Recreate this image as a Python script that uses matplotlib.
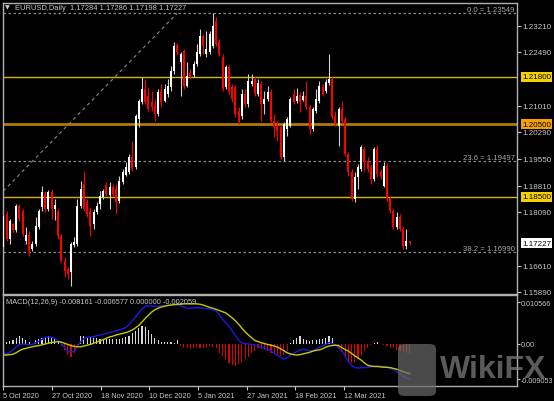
import numpy as np
import matplotlib
matplotlib.use('Agg')
import matplotlib.pyplot as plt
from matplotlib.patches import FancyBboxPatch
from matplotlib.transforms import blended_transform_factory

# EURUSD daily candles
opens = [1.1712, 1.1803, 1.1734, 1.1775, 1.1759, 1.1825, 1.1811, 1.1728, 1.1745, 1.1707,
         1.1720, 1.1767, 1.1822, 1.1858, 1.1817, 1.1863, 1.1817, 1.1811, 1.1742, 1.1673,
         1.1651, 1.1643, 1.1718, 1.1720, 1.1825, 1.1885, 1.1836, 1.1811, 1.1775, 1.1808,
         1.1830, 1.1850, 1.1883, 1.1855, 1.1877, 1.1872, 1.1839, 1.1891, 1.1910, 1.1918,
         1.1960, 1.1932, 1.2064, 1.2111, 1.2147, 1.2128, 1.2111, 1.2100, 1.2078, 1.2139,
         1.2114, 1.2133, 1.2152, 1.2196, 1.2268, 1.2221, 1.2251, 1.2155, 1.2191, 1.2185,
         1.2216, 1.2243, 1.2293, 1.2243, 1.2249, 1.2265, 1.2334, 1.2276, 1.2235, 1.2152,
         1.2207, 1.2152, 1.2152, 1.2086, 1.2073, 1.2133, 1.2106, 1.2161, 1.2174, 1.2133,
         1.2161, 1.2106, 1.2119, 1.2139, 1.2059, 1.2045, 1.2042, 1.1960, 1.2037, 1.2045,
         1.2133, 1.2114, 1.2130, 1.2117, 1.2128, 1.2097, 1.2037, 1.2086, 1.2114, 1.2152,
         1.2141, 1.2163, 1.2174, 1.2073, 1.2045, 1.2092, 1.2064, 1.1968, 1.1918, 1.1844,
         1.1905, 1.1927, 1.1982, 1.1949, 1.1932, 1.1899, 1.1982, 1.1918, 1.1880, 1.1935,
         1.1847, 1.1811, 1.1767, 1.1795, 1.1762, 1.1715, 1.17284]
highs = [1.1803, 1.1811, 1.1789, 1.1778, 1.1830, 1.1830, 1.1817, 1.1767, 1.1756, 1.1728,
         1.1795, 1.1817, 1.1880, 1.1866, 1.1869, 1.1872, 1.1844, 1.1817, 1.1748, 1.1685,
         1.1657, 1.1726, 1.1740, 1.1844, 1.1894, 1.1921, 1.1844, 1.1822, 1.1817, 1.1836,
         1.1866, 1.1872, 1.1891, 1.1891, 1.1885, 1.1885, 1.1907, 1.1927, 1.1946, 1.1968,
         1.2004, 1.2078, 1.2119, 1.2180, 1.2174, 1.2152, 1.2141, 1.2119, 1.2147, 1.2161,
         1.2161, 1.2174, 1.2210, 1.2276, 1.2273, 1.2249, 1.2257, 1.2221, 1.2202, 1.2224,
         1.2271, 1.2312, 1.2298, 1.2306, 1.2306, 1.2355, 1.2345, 1.2284, 1.2243, 1.2213,
         1.2213, 1.2161, 1.2158, 1.2097, 1.2147, 1.2147, 1.2188, 1.2188, 1.2180, 1.2174,
         1.2169, 1.2141, 1.2155, 1.2147, 1.2078, 1.2059, 1.2048, 1.2056, 1.2070, 1.2125,
         1.2147, 1.2150, 1.2139, 1.2141, 1.2169, 1.2103, 1.2097, 1.2147, 1.2169, 1.2161,
         1.2174, 1.2243, 1.2180, 1.2086, 1.2097, 1.2114, 1.2070, 1.1973, 1.1927, 1.1918,
         1.1940, 1.1993, 1.1987, 1.1960, 1.1940, 1.1987, 1.1993, 1.1927, 1.1946, 1.1943,
         1.1852, 1.1817, 1.1808, 1.1803, 1.1767, 1.1762, 1.17286]
lows = [1.1707, 1.1728, 1.1720, 1.1753, 1.1753, 1.1784, 1.1742, 1.1720, 1.1687, 1.1701,
        1.1715, 1.1762, 1.1811, 1.1808, 1.1811, 1.1789, 1.1786, 1.1734, 1.1671, 1.1629,
        1.1624, 1.1605, 1.1712, 1.1715, 1.1819, 1.1811, 1.1795, 1.1742, 1.1762, 1.1803,
        1.1817, 1.1844, 1.1852, 1.1817, 1.1852, 1.1803, 1.1833, 1.1885, 1.1907, 1.1913,
        1.1921, 1.1927, 1.2042, 1.2106, 1.2106, 1.2086, 1.2086, 1.2059, 1.2073, 1.2097,
        1.2111, 1.2125, 1.2141, 1.2188, 1.2240, 1.2128, 1.2147, 1.2152, 1.2174, 1.2180,
        1.2210, 1.2238, 1.2243, 1.2235, 1.2243, 1.2260, 1.2265, 1.2238, 1.2141, 1.2147,
        1.2133, 1.2111, 1.2070, 1.2051, 1.2064, 1.2097, 1.2097, 1.2155, 1.2128, 1.2128,
        1.2059, 1.2078, 1.2114, 1.2053, 1.2015, 1.2004, 1.1954, 1.1949, 1.2017, 1.2042,
        1.2106, 1.2108, 1.2084, 1.2114, 1.2092, 1.2023, 1.2031, 1.2081, 1.2108, 1.2128,
        1.2136, 1.2158, 1.2064, 1.2045, 1.1990, 1.2053, 1.1962, 1.1907, 1.1839, 1.1836,
        1.1872, 1.1921, 1.1921, 1.1918, 1.1885, 1.1894, 1.1905, 1.1899, 1.1877, 1.1839,
        1.1806, 1.1762, 1.1762, 1.1756, 1.1707, 1.1707, 1.17198]
closes = [1.1797, 1.1734, 1.1784, 1.1759, 1.1825, 1.1789, 1.1748, 1.1745, 1.1701, 1.1720,
          1.1770, 1.1811, 1.1863, 1.1817, 1.1863, 1.1817, 1.1828, 1.1742, 1.1673, 1.1646,
          1.1638, 1.1720, 1.1726, 1.1825, 1.1872, 1.1817, 1.1803, 1.1770, 1.1808, 1.1825,
          1.1852, 1.1866, 1.1858, 1.1877, 1.1858, 1.1836, 1.1894, 1.1918, 1.1932, 1.1960,
          1.1927, 1.2073, 1.2114, 1.2147, 1.2111, 1.2092, 1.2097, 1.2078, 1.2139, 1.2111,
          1.2147, 1.2155, 1.2196, 1.2265, 1.2249, 1.2243, 1.2155, 1.2183, 1.2180, 1.2216,
          1.2249, 1.2293, 1.2265, 1.2257, 1.2298, 1.2320, 1.2271, 1.2243, 1.2147, 1.2207,
          1.2139, 1.2119, 1.2078, 1.2056, 1.2133, 1.2106, 1.2169, 1.2169, 1.2133, 1.2163,
          1.2106, 1.2119, 1.2139, 1.2059, 1.2042, 1.2031, 1.1960, 1.2051, 1.2064, 1.2119,
          1.2111, 1.2128, 1.2111, 1.2128, 1.2097, 1.2037, 1.2092, 1.2119, 1.2155, 1.2133,
          1.2166, 1.2174, 1.2070, 1.2051, 1.2092, 1.2059, 1.1968, 1.1918, 1.1844, 1.1905,
          1.1932, 1.1987, 1.1946, 1.1927, 1.1899, 1.1982, 1.1913, 1.1905, 1.1935, 1.1844,
          1.1811, 1.1767, 1.1795, 1.1762, 1.1715, 1.1728, 1.17227]

# MACD(12,26,9) panel: main line, signal line, histogram
macd = [-0.0023, -0.0027, -0.0022, -0.0016, -0.0008, -0.0002, -0.0001, -0.0002, -0.0003, -0.0002,
        0.0002, 0.0006, 0.0011, 0.0016, 0.0017, 0.0016, 0.0013, 0.0008, 0.0001, -0.0010,
        -0.0019, -0.0022, -0.0019, -0.0006, 0.0005, 0.0013, 0.0016, 0.0017, 0.0018, 0.0020,
        0.0022, 0.0024, 0.0026, 0.0028, 0.0030, 0.0033, 0.0035, 0.0038, 0.0041, 0.0048,
        0.0058, 0.0068, 0.0079, 0.0088, 0.0095, 0.0096, 0.0096, 0.0095, 0.0095, 0.0096,
        0.0096, 0.0097, 0.0098, 0.0099, 0.0098, 0.0096, 0.0093, 0.0090, 0.0090, 0.0091,
        0.0091, 0.0091, 0.0090, 0.0089, 0.0088, 0.0086, 0.0083, 0.0073, 0.0062, 0.0053,
        0.0044, 0.0032, 0.0020, 0.0009, 0.0002, 0.0000, -0.0001, -0.0002, -0.0004, -0.0006,
        -0.0008, -0.0011, -0.0014, -0.0019, -0.0025, -0.0030, -0.0035, -0.0039, -0.0036, -0.0029,
        -0.0025, -0.0020, -0.0017, -0.0014, -0.0016, -0.0018, -0.0018, -0.0014, -0.0009, -0.0006,
        -0.0002, 0.0003, 0.0000, -0.0004, -0.0010, -0.0018, -0.0032, -0.0046, -0.0055, -0.0061,
        -0.0062, -0.0061, -0.0061, -0.0060, -0.0059, -0.0058, -0.0057, -0.0058, -0.0058, -0.0060,
        -0.0063, -0.0066, -0.0071, -0.0076, -0.0083, -0.0087, -0.0090]
signal = [-0.0029, -0.0029, -0.0028, -0.0027, -0.0023, -0.0018, -0.0014, -0.0012, -0.0010, -0.0008,
          -0.0006, -0.0005, -0.0003, -0.0001, 0.0001, 0.0003, 0.0004, 0.0005, 0.0004, 0.0001,
          -0.0002, -0.0005, -0.0007, -0.0008, -0.0008, -0.0006, -0.0004, -0.0002, 0.0001, 0.0004,
          0.0007, 0.0010, 0.0014, 0.0017, 0.0019, 0.0022, 0.0024, 0.0026, 0.0028, 0.0031,
          0.0035, 0.0040, 0.0046, 0.0055, 0.0064, 0.0072, 0.0080, 0.0086, 0.0090, 0.0093,
          0.0095, 0.0097, 0.0098, 0.0099, 0.0100, 0.0100, 0.0101, 0.0101, 0.0101, 0.0101,
          0.0101, 0.0100, 0.0098, 0.0095, 0.0092, 0.0090, 0.0087, 0.0084, 0.0081, 0.0078,
          0.0072, 0.0065, 0.0058, 0.0049, 0.0039, 0.0030, 0.0022, 0.0015, 0.0008, 0.0005,
          0.0002, 0.0000, -0.0002, -0.0004, -0.0006, -0.0009, -0.0013, -0.0018, -0.0023, -0.0026,
          -0.0028, -0.0029, -0.0028, -0.0026, -0.0024, -0.0022, -0.0019, -0.0017, -0.0016, -0.0013,
          -0.0009, -0.0006, -0.0005, -0.0004, -0.0005, -0.0010, -0.0015, -0.0019, -0.0025, -0.0031,
          -0.0036, -0.0042, -0.0049, -0.0055, -0.0057, -0.0058, -0.0058, -0.0059, -0.0060, -0.0060,
          -0.0061, -0.0063, -0.0065, -0.0068, -0.0071, -0.0074, -0.0076]
hist = [0.0007, 0.0004, 0.0006, 0.0010, 0.0015, 0.0020, 0.0015, 0.0010, 0.0005, -0.0002,
        0.0008, 0.0012, 0.0015, 0.0018, 0.0020, 0.0018, 0.0012, 0.0004, -0.0006, -0.0015,
        -0.0030, -0.0035, -0.0025, -0.0008, 0.0020, 0.0019, 0.0017, 0.0016, 0.0015, 0.0014,
        0.0013, 0.0013, 0.0012, 0.0011, 0.0012, 0.0013, 0.0013, 0.0014, 0.0016, 0.0020,
        0.0026, 0.0032, 0.0040, 0.0045, 0.0042, 0.0035, 0.0025, 0.0015, 0.0008, 0.0005,
        0.0004, 0.0003, 0.0003, 0.0002, 0.0008, -0.0005, -0.0010, -0.0012, -0.0013, -0.0011,
        -0.0009, -0.0010, -0.0012, -0.0008, -0.0006, -0.0008, -0.0012, -0.0023, -0.0032, -0.0040,
        -0.0048, -0.0055, -0.0057, -0.0052, -0.0046, -0.0040, -0.0033, -0.0025, -0.0018, -0.0012,
        -0.0013, -0.0016, -0.0019, -0.0023, -0.0027, -0.0031, -0.0032, -0.0028, -0.0018, 0.0002,
        0.0008, 0.0014, 0.0019, 0.0013, 0.0009, 0.0007, 0.0008, 0.0010, 0.0011, 0.0012,
        0.0014, 0.0019, 0.0015, -0.0006, -0.0013, -0.0020, -0.0035, -0.0043, -0.0048, -0.0046,
        -0.0040, -0.0030, -0.0018, -0.0010, -0.0004, 0.0002, 0.0003, -0.0002, -0.0004, -0.0007,
        -0.0010, -0.0012, -0.0015, -0.0018, -0.0022, -0.0025, -0.0027]

date_labels = ['5 Oct 2020', '27 Oct 2020', '18 Nov 2020', '10 Dec 2020',
               '5 Jan 2021', '27 Jan 2021', '18 Feb 2021', '12 Mar 2021']
price_ticks = [1.23210, 1.22490, 1.21010, 1.20290, 1.19550,
               1.18810, 1.18090, 1.16610, 1.15890]
hlines = [1.21800, 1.20500, 1.18500]
fib_names = ['0.0', '23.6', '38.2']
fib_values = [1.23549, 1.19497, 1.16990]
fib_trend_x = [0, 53.9]
fib_trend_y = [1.1866, 1.23549]
macd_ticks = [0.010566, 0.0, -0.009053]
macd_tick_labels = ['0.010566', '0.00', '-0.009053']

W, H = 554, 402
FG = '#C8C8C8'
plt.rcParams['font.family'] = ['Liberation Sans', 'DejaVu Sans']


def px_rect(x0, y0, x1, y1):
    return [x0 / W, 1 - y1 / H, (x1 - x0) / W, (y1 - y0) / H]


fig = plt.figure(figsize=(W / 100, H / 100), dpi=100, facecolor='black')
ax = fig.add_axes(px_rect(3, 4, 517, 295), facecolor='black')
ax2 = fig.add_axes(px_rect(3, 296, 517, 387), facecolor='black', sharex=ax)

x = np.arange(len(closes))
o, h, l, c = map(np.array, (opens, highs, lows, closes))
up = c >= o
body_col = np.where(up, 'white', '#FF0000')
wick_col = np.where(up, '#D0D0D0', '#FF0000')

# horizontal support / resistance lines
ax.axhline(hlines[0], color='#D8B400', lw=1.0, zorder=1)
ax.axhline(hlines[1], color='#B07C00', lw=2.0, zorder=1)
ax.axhline(hlines[2], color='#D8B400', lw=1.0, zorder=1)

# fibonacci levels + trend line
trans = blended_transform_factory(ax.transAxes, ax.transData)
for name, val in zip(fib_names, fib_values):
    ax.axhline(val, color='#8A8A8A', lw=0.9, ls=(0, (2, 2)), zorder=1)
    ax.text(0.996, val, f'{name} = {val:.5f}', transform=trans,
            ha='right', va='bottom', fontsize=5.6, color='#A8A8A8')
ax.plot(fib_trend_x, fib_trend_y, color='#8A8A8A', lw=0.8, ls=(0, (3, 3)), zorder=1)

# candles
ax.vlines(x, l, h, colors=wick_col, lw=0.8, zorder=2)
ax.bar(x, np.maximum(np.abs(c - o), 0.00025), bottom=np.minimum(o, c), width=0.62,
       color=body_col, linewidth=0, zorder=3)

ax.set_xlim(-0.09, 159.3)
ax.set_ylim(1.15827, 1.23835)
ax.yaxis.tick_right()
ax.set_yticks(price_ticks)
ax.set_yticklabels([f'{t:.5f}' for t in price_ticks])
ax.tick_params(axis='y', direction='out', length=3, width=0.8, pad=1, colors=FG, labelsize=5.8)
ax.tick_params(axis='x', bottom=False, labelbottom=False)

box_specs = [(hlines[0], '#F5D000'), (hlines[1], '#F5A000'), (hlines[2], '#F5D000'), (closes[-1], 'white')]
for val, col in box_specs:
    ax.text(1.0 + 5 / 514, val, f'{val:.5f}', transform=trans, ha='left', va='center',
            fontsize=5.8, color='black', zorder=5,
            bbox=dict(boxstyle='square,pad=0.18', fc=col, ec='none'))

# MACD panel
hist = np.array(hist)
ax2.bar(x, hist, width=0.35, color=np.where(hist >= 0, '#D8D8D8', '#E00000'), linewidth=0)
ax2.plot(x, macd, color='#1A1AE6', lw=1.0)
ax2.plot(x, signal, color='#C8C800', lw=1.0)
ax2.set_ylim(-0.01076, 0.01235)
ax2.yaxis.tick_right()
ax2.set_yticks(macd_ticks)
ax2.set_yticklabels(macd_tick_labels)
ax2.tick_params(axis='y', direction='out', length=2, width=0.8, pad=0.5, colors=FG, labelsize=5.2)

tick_pos = np.arange(len(date_labels)) * 15.1
ax2.set_xticks(tick_pos)
ax2.set_xticklabels(date_labels, ha='left')
ax2.tick_params(axis='x', direction='out', length=3, width=0.8, pad=1.5, colors=FG, labelsize=5.3)

for a in (ax, ax2):
    for s in a.spines.values():
        s.set_color('#B0B0B0')
        s.set_linewidth(1.0)

# header texts
fig.text(5 / W, 1 - 8 / H, '\u25BC', fontsize=4.5, color=FG, va='center', family=['DejaVu Sans'])
fig.text(15 / W, 1 - 8 / H, 'EURUSD,Daily  1.17284 1.17286 1.17198 1.17227',
         fontsize=5.4, color=FG, va='center')
fig.text(6 / W, 1 - 303 / H, 'MACD(12,26,9) -0.008161 -0.006577 0.000000 -0.002059',
         fontsize=5.3, color=FG, va='center')

# WikiFX watermark
logo = FancyBboxPatch((398 / W, 1 - 397 / H), 38 / W, 52 / H,
                      boxstyle='round,pad=0,rounding_size=0.012', transform=fig.transFigure,
                      fc='#6A6A6A', ec='none', alpha=0.7, zorder=10)
fig.patches.append(logo)
fig.text(440 / W, 1 - 378 / H, 'WikiFX', fontsize=23, fontweight='bold', color='#7A7A7A',
         alpha=0.75, va='baseline', ha='left', zorder=10)

fig.savefig('out.png', dpi=100, facecolor='black')
